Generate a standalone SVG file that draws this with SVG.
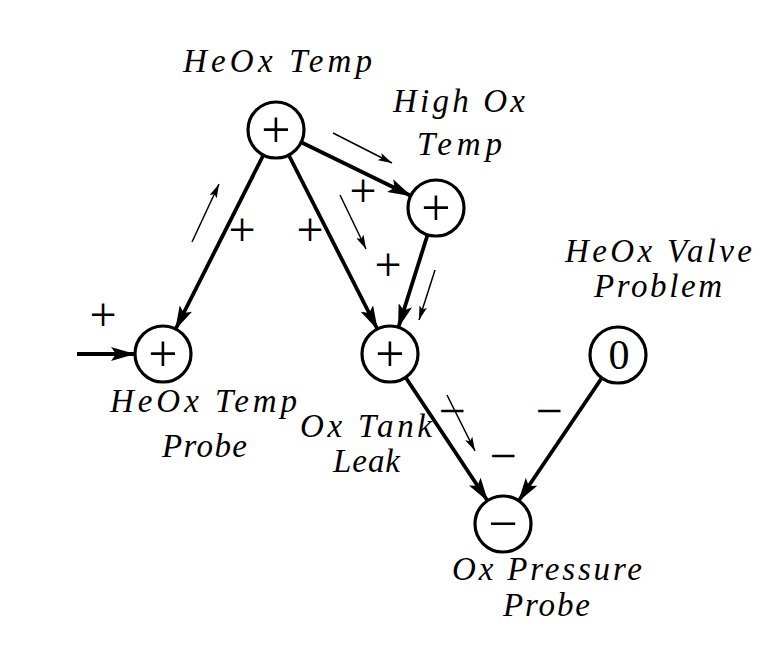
<svg xmlns="http://www.w3.org/2000/svg" width="778" height="656" viewBox="0 0 778 656">
<style>
.node{fill:#fff;stroke:#000;stroke-width:3.2}
.edge{stroke:#000;stroke-width:3.8;fill:none}
.hint{stroke:#000;stroke-width:1.5;fill:none}
.lbl{font-family:"Liberation Serif",serif;font-style:italic;font-size:33px;fill:#000}
.sym{font-family:"Liberation Serif",serif;font-size:48px;fill:#000;text-anchor:middle}
.nsym{font-family:"Liberation Serif",serif;font-size:52px;fill:#000;text-anchor:middle}
.zero{font-family:"Liberation Serif",serif;font-size:42px;fill:#000;text-anchor:middle}
</style>
<defs>
<marker id="ah" viewBox="0 0 24 14" markerUnits="userSpaceOnUse" markerWidth="24" markerHeight="14" refX="23" refY="7" orient="auto">
<path d="M0,0 L24,7 L0,14 L5,7 z" fill="#000"/>
</marker>
<marker id="ahs" viewBox="0 0 14 8" markerUnits="userSpaceOnUse" markerWidth="14" markerHeight="8" refX="14" refY="4" orient="auto">
<path d="M0,0 L14,4 L0,8 L3,4 z" fill="#000"/>
</marker>
</defs>
<rect width="778" height="656" fill="#fff"/>
<g id="connectors">
<line class="edge" x1="77" y1="354" x2="134" y2="354" marker-end="url(#ah)"/>
<line class="edge" x1="263.4" y1="155" x2="175.6" y2="329" marker-end="url(#ah)"/>
<line class="edge" x1="288.7" y1="155" x2="377.3" y2="329" marker-end="url(#ah)"/>
<line class="edge" x1="301.2" y1="142.3" x2="410.8" y2="195.7" marker-end="url(#ah)"/>
<line class="edge" x1="427.6" y1="234.7" x2="398.4" y2="327.3" marker-end="url(#ah)"/>
<line class="edge" x1="405.5" y1="377.3" x2="487.5" y2="500.7" marker-end="url(#ah)"/>
<line class="edge" x1="602.3" y1="377.2" x2="518.7" y2="500.8" marker-end="url(#ah)"/>
<line class="hint" x1="192" y1="242" x2="219" y2="184" marker-end="url(#ahs)"/>
<line class="hint" x1="333" y1="133" x2="392" y2="163" marker-end="url(#ahs)"/>
<line class="hint" x1="340" y1="195" x2="366" y2="249" marker-end="url(#ahs)"/>
<line class="hint" x1="435" y1="270" x2="419" y2="320" marker-end="url(#ahs)"/>
<line class="hint" x1="447" y1="395" x2="475" y2="451" marker-end="url(#ahs)"/>
<text class="sym" x="103" y="331">+</text>
<text class="sym" x="242" y="246">+</text>
<text class="sym" x="310" y="246">+</text>
<text class="sym" x="363" y="207">+</text>
<text class="sym" x="388" y="281">+</text>
<text class="sym" x="452" y="427">−</text>
<text class="sym" x="549" y="427">−</text>
<text class="sym" x="503" y="472">−</text>
</g>
<g id="heox-temp">
<circle class="node" cx="276" cy="130" r="28"/>
<text class="nsym" x="276" y="147">+</text>
<text class="lbl" x="183" y="72" textLength="189" lengthAdjust="spacing">HeOx Temp</text>
</g>
<g id="high-ox-temp">
<circle class="node" cx="436" cy="208" r="28"/>
<text class="nsym" x="436" y="225">+</text>
<text class="lbl" x="393" y="112" textLength="132" lengthAdjust="spacing">High Ox</text>
<text class="lbl" x="417" y="155" textLength="85" lengthAdjust="spacing">Temp</text>
</g>
<g id="heox-temp-probe">
<circle class="node" cx="163" cy="354" r="28"/>
<text class="nsym" x="163" y="371">+</text>
<text class="lbl" x="110" y="412" textLength="187" lengthAdjust="spacing">HeOx Temp</text>
<text class="lbl" x="162" y="457" textLength="85" lengthAdjust="spacing">Probe</text>
</g>
<g id="ox-tank-leak">
<circle class="node" cx="390" cy="354" r="28"/>
<text class="nsym" x="390" y="371">+</text>
<text class="lbl" x="300" y="437" textLength="132" lengthAdjust="spacing">Ox Tank</text>
<text class="lbl" x="333" y="472" textLength="67" lengthAdjust="spacing">Leak</text>
</g>
<g id="heox-valve-problem">
<circle class="node" cx="618" cy="355" r="28"/>
<text class="zero" x="619" y="369">0</text>
<text class="lbl" x="565" y="262" textLength="187" lengthAdjust="spacing">HeOx Valve</text>
<text class="lbl" x="594" y="297" textLength="128" lengthAdjust="spacing">Problem</text>
</g>
<g id="ox-pressure-probe">
<circle class="node" cx="503" cy="524" r="28"/>
<text class="nsym" x="503" y="541">−</text>
<text class="lbl" x="452" y="580" textLength="190" lengthAdjust="spacing">Ox Pressure</text>
<text class="lbl" x="503" y="616" textLength="87" lengthAdjust="spacing">Probe</text>
</g>
</svg>
